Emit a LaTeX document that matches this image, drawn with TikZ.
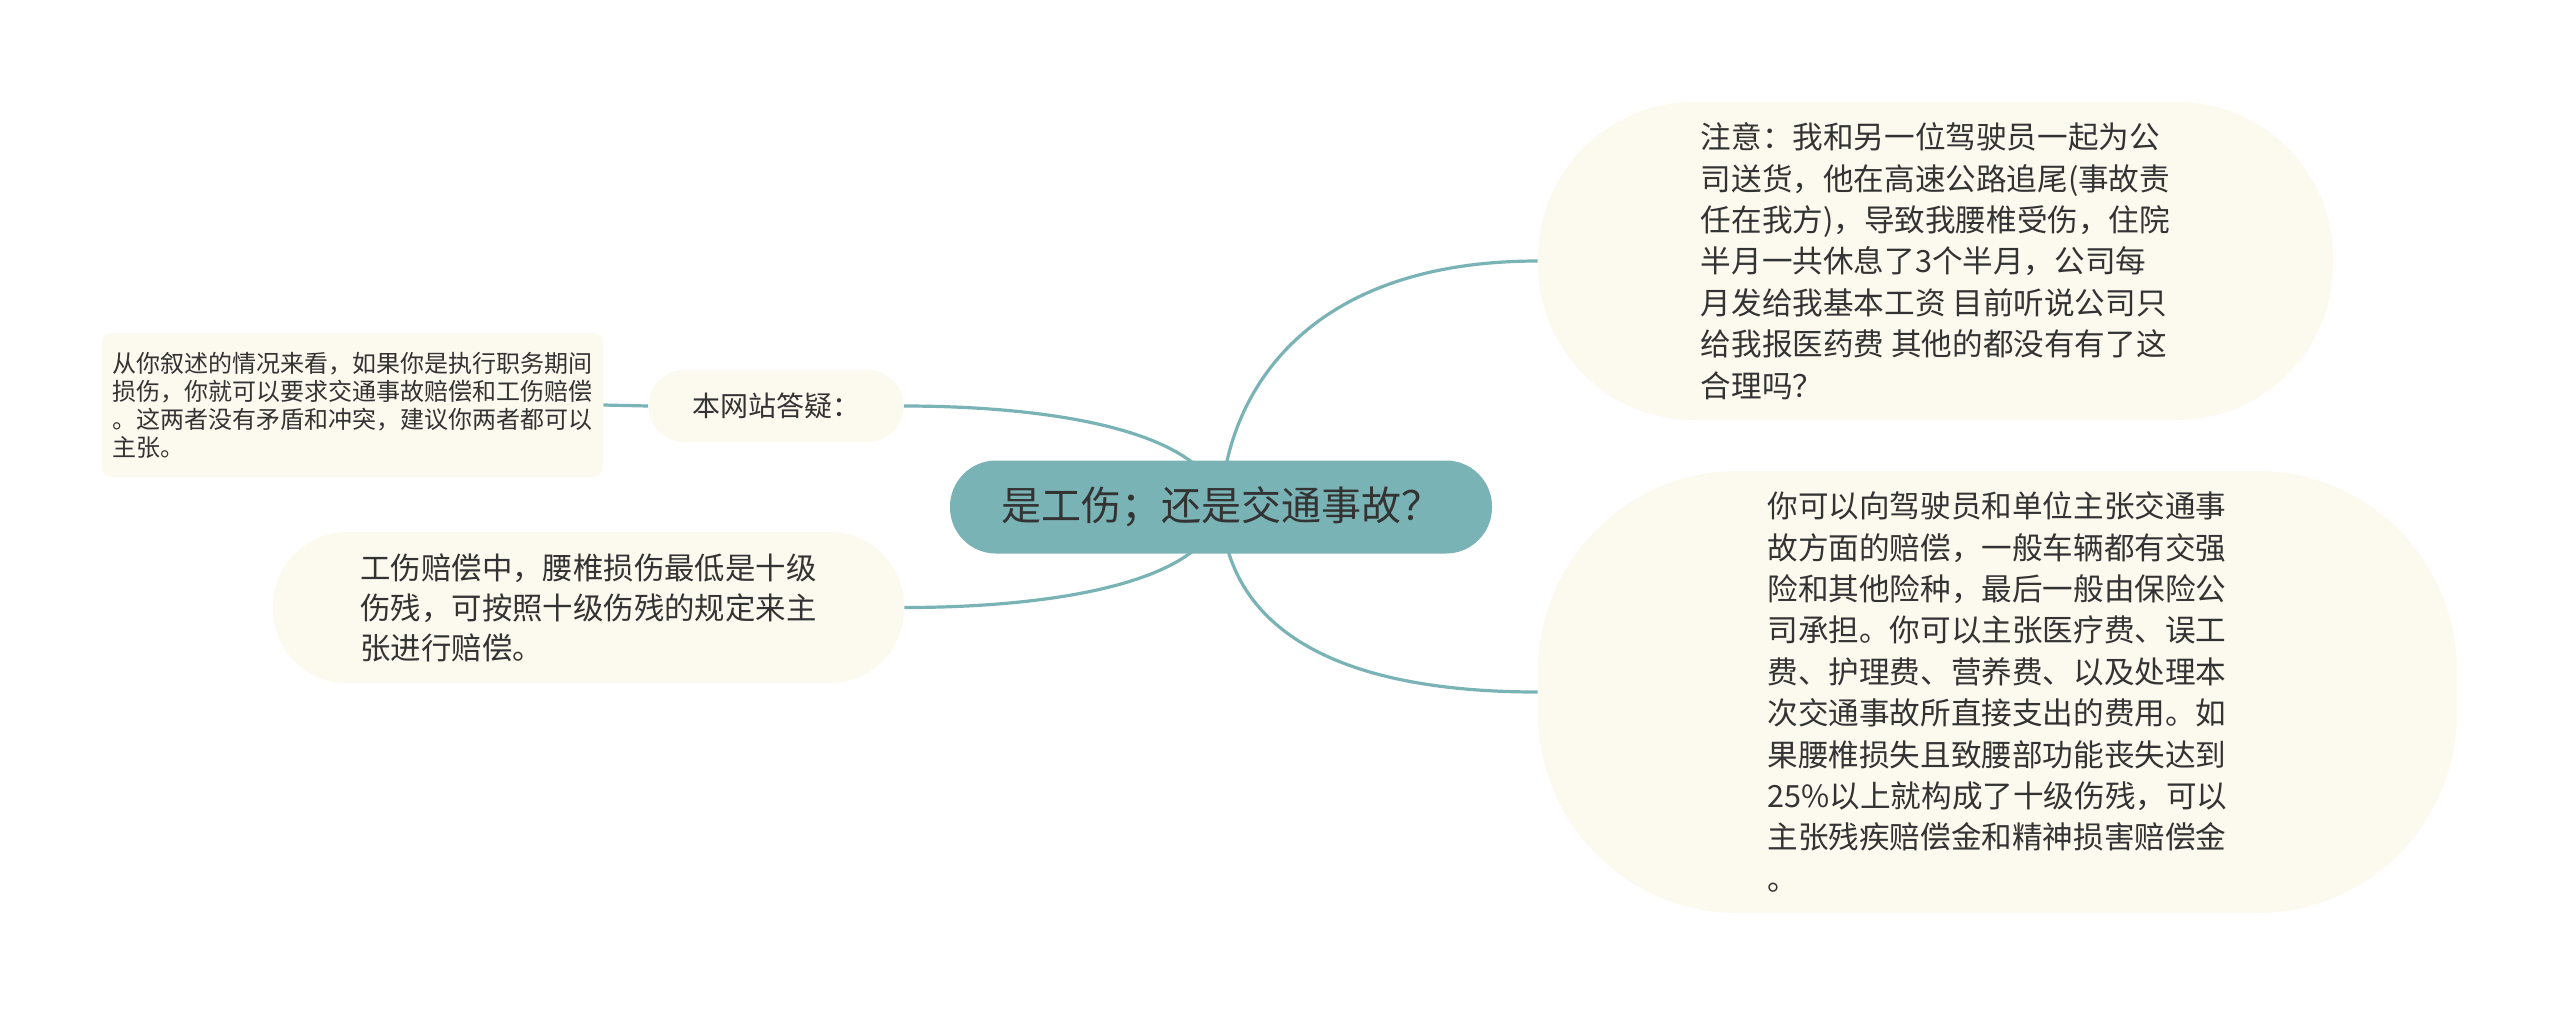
\documentclass[tikz,border=0pt]{standalone}
\usepackage{fontspec}
\setmainfont{Noto Sans CJK SC}
\usetikzlibrary{backgrounds}
\definecolor{tealc}{HTML}{7AB3B5}
\definecolor{cream}{HTML}{FCFAEF}
\definecolor{txt}{HTML}{333333}
\tikzset{
  base/.style={draw=none, inner sep=0pt, align=left, text=txt},
  mainbox/.style={base, fill=tealc, rounded corners=23pt, minimum width=271pt, minimum height=46.5pt,
    font=\fontsize{20pt}{24pt}\selectfont, align=center},
  subbox/.style={base, fill=cream},
  bodyfont/.style={font=\fontsize{15.3pt}{20.7pt}\selectfont},
  link/.style={draw=tealc, line width=1.6pt},
}
\begin{document}
\begin{tikzpicture}[x=0.5pt,y=-0.5pt]
\useasboundingbox (0,0) rectangle (2560,1014);
\node[mainbox] (c) at (1221,507) {是工伤；还是交通事故？};
\node[subbox, rounded corners=18pt, minimum width=127.5pt, minimum height=36pt,
  font=\fontsize{14pt}{17pt}\selectfont] (q) at (776,406) {本网站答疑：};
\node[subbox, rounded corners=5pt, minimum width=250.5pt, minimum height=72pt,
  font=\fontsize{12pt}{14pt}\selectfont] (leaf) at (352.5,405) {从你叙述的情况来看，如果你是执行职务期间\\损伤，你就可以要求交通事故赔偿和工伤赔偿\\。这两者没有矛盾和冲突，建议你两者都可以\\主张。};
\node[subbox, rounded corners=37pt, minimum width=315.5pt, minimum height=75.5pt,
  font=\fontsize{15.2pt}{20pt}\selectfont] (l2) at (588.5,607.5) {工伤赔偿中，腰椎损伤最低是十级\\伤残，可按照十级伤残的规定来主\\张进行赔偿。};
\node[subbox, bodyfont, rounded corners=78pt, minimum width=397.5pt, minimum height=159pt] (r1) at (1935.5,261)
  {注意：我和另一位驾驶员一起为公\\司送货，他在高速公路追尾(事故责\\任在我方)，导致我腰椎受伤，住院\\半月一共休息了3个半月，公司每\\月发给我基本工资 目前听说公司只\\给我报医药费 其他的都没有有了这\\合理吗？};
\node[subbox, bodyfont, rounded corners=100pt, minimum width=459.5pt, minimum height=221pt] (r2) at (1997.5,692)
  {你可以向驾驶员和单位主张交通事\\故方面的赔偿，一般车辆都有交强\\险和其他险种，最后一般由保险公\\司承担。你可以主张医疗费、误工\\费、护理费、营养费、以及处理本\\次交通事故所直接支出的费用。如\\果腰椎损失且致腰部功能丧失达到\\25\%以上就构成了十级伤残，可以\\主张残疾赔偿金和精神损害赔偿金\\。};
\begin{pgfonlayer}{background}
\fill[white] (0,0) rectangle (2560,1014);
\draw[link] (c.center) .. controls +(4,-107) and +(-238,0) .. (r1.west);
\draw[link] (c.center) .. controls +(4,98) and +(-238,0) .. (r2.west);
\draw[link] (c.center) .. controls +(-11,-77) and +(145,0) .. (q.east);
\draw[link] (c.center) .. controls +(-11,77) and +(145,0) .. (l2.east);
\draw[link] (q.west) -- (leaf.east);
\end{pgfonlayer}
\end{tikzpicture}
\end{document}
